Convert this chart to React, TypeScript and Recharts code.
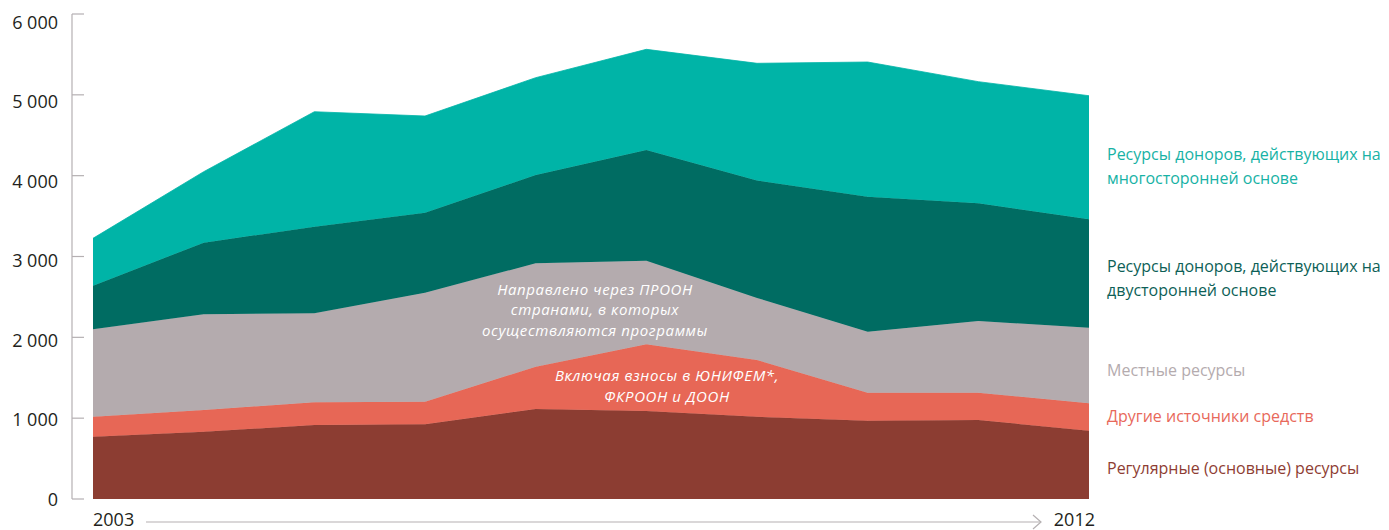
import { AreaChart, Area, XAxis, YAxis } from 'recharts'

const YEARS = ['2003', '2004', '2005', '2006', '2007', '2008', '2009', '2010', '2011', '2012']

// млн долл. США, по слоям снизу вверх
const REGULAR      = [771, 833, 915, 924, 1113, 1089, 1018, 969, 977, 845]
const OTHER        = [247, 268, 281, 280, 524, 825, 702, 346, 338, 339]
const LOCAL        = [1081, 1184, 1101, 1348, 1279, 1034, 767, 755, 887, 935]
const BILATERAL    = [540, 886, 1072, 990, 1092, 1369, 1453, 1670, 1456, 1341]
const MULTILATERAL = [586, 878, 1422, 1196, 1204, 1246, 1450, 1666, 1505, 1529]

const Y_TICKS = [0, 1000, 2000, 3000, 4000, 5000, 6000]

const COLORS = {
  regular: '#8c3d32',
  other: '#e76756',
  local: '#b4abae',
  bilateral: '#006c62',
  multilateral: '#00b4a7',
}

const data = YEARS.map((year, i) => ({
  year,
  regular: REGULAR[i],
  other: OTHER[i],
  local: LOCAL[i],
  bilateral: BILATERAL[i],
  multilateral: MULTILATERAL[i],
}))

const FONT = '"Open Sans", sans-serif'
const AXIS = '#b5b0b2'

const fmt = (v: number) => (v >= 1000 ? `${Math.floor(v / 1000)} ${String(v % 1000).padStart(3, '0')}` : String(v))

function YTick(props: any) {
  const { x, y, payload } = props
  return (
    <g>
      <line x1={x + 14} x2={x + 26} y1={y} y2={y} stroke={AXIS} strokeWidth={1.2} />
      <text x={x} y={y + (499 - y) * 0.0165} dy={6.5} textAnchor="end"
        fontFamily={FONT} fontSize={18} fill="#231f20">
        {fmt(payload.value)}
      </text>
    </g>
  )
}

function XTick(props: any) {
  const { x, y, index, payload } = props
  if (index === 0) {
    return (
      <text x={x} y={y + 27} textAnchor="start" fontFamily={FONT} fontSize={18} fill="#231f20">
        {payload.value}
      </text>
    )
  }
  if (index === YEARS.length - 1) {
    return (
      <g>
        <line x1={x - 943} x2={x - 48} y1={y + 23} y2={y + 23} stroke={AXIS} strokeWidth={1.2} />
        <polyline points={`${x - 56},${y + 16} ${x - 48},${y + 23} ${x - 56},${y + 30}`}
          fill="none" stroke={AXIS} strokeWidth={1.2} />
        <text x={x + 6} y={y + 27} textAnchor="end" fontFamily={FONT} fontSize={18} fill="#231f20">
          {payload.value}
        </text>
      </g>
    )
  }
  return <g />
}

const LEGEND = [
  { lines: ['Ресурсы доноров, действующих на', 'многосторонней основе'], y: 160, color: '#17b2a5' },
  { lines: ['Ресурсы доноров, действующих на', 'двусторонней основе'], y: 272, color: '#0d5f57' },
  { lines: ['Местные ресурсы'], y: 376, color: '#b4abae' },
  { lines: ['Другие источники средств'], y: 422, color: '#e8695b' },
  { lines: ['Регулярные (основные) ресурсы'], y: 474, color: '#8e3d33' },
]

export default function App() {
  return (
    <div style={{ position: 'absolute', left: 0, top: 0, width: 1389, height: 530, background: '#fff' }}>
      <AreaChart width={1389} height={530} data={data}
        margin={{ top: 14, right: 300, bottom: 0, left: 0 }}>
        <XAxis dataKey="year" height={31} interval={0} axisLine={false} tickLine={false}
          tickSize={0} tickMargin={0} padding={{ left: 21, right: 0 }} tick={<XTick />} />
        <YAxis width={72} domain={[0, 6000]} ticks={Y_TICKS} tickLine={false}
          tickSize={0} tickMargin={14} axisLine={{ stroke: AXIS, strokeWidth: 1.2 }} tick={<YTick />} />
        <Area type="linear" dataKey="regular" stackId="a" fill={COLORS.regular} stroke={COLORS.regular}
          strokeWidth={0.8} fillOpacity={1} isAnimationActive={false} />
        <Area type="linear" dataKey="other" stackId="a" fill={COLORS.other} stroke={COLORS.other}
          strokeWidth={0.8} fillOpacity={1} isAnimationActive={false} />
        <Area type="linear" dataKey="local" stackId="a" fill={COLORS.local} stroke={COLORS.local}
          strokeWidth={0.8} fillOpacity={1} isAnimationActive={false} />
        <Area type="linear" dataKey="bilateral" stackId="a" fill={COLORS.bilateral} stroke={COLORS.bilateral}
          strokeWidth={0.8} fillOpacity={1} isAnimationActive={false} />
        <Area type="linear" dataKey="multilateral" stackId="a" fill={COLORS.multilateral} stroke={COLORS.multilateral}
          strokeWidth={0.8} fillOpacity={1} isAnimationActive={false} />
      </AreaChart>

      {/* подписи поверх графика */}
      <svg width={1389} height={530} style={{ position: 'absolute', left: 0, top: 0, pointerEvents: 'none' }}>
        <g fontFamily={FONT} fontStyle="italic" fontSize={15} letterSpacing={0.6} fill="#fff" textAnchor="middle">
          <text x={595} y={294.5}>Направлено через ПРООН</text>
          <text x={595} y={315}>странами, в которых</text>
          <text x={595} y={335.5}>осуществляются программы</text>
          <text x={667} y={381}>Включая взносы в ЮНИФЕМ*,</text>
          <text x={667} y={401.5}>ФКРООН и ДООН</text>
        </g>
        <g fontFamily={FONT} fontSize={16}>
          {LEGEND.map((item, i) =>
            item.lines.map((line, j) => (
              <text key={`${i}-${j}`} x={1107} y={item.y + j * 24} fill={item.color}>{line}</text>
            ))
          )}
        </g>
      </svg>
    </div>
  )
}
